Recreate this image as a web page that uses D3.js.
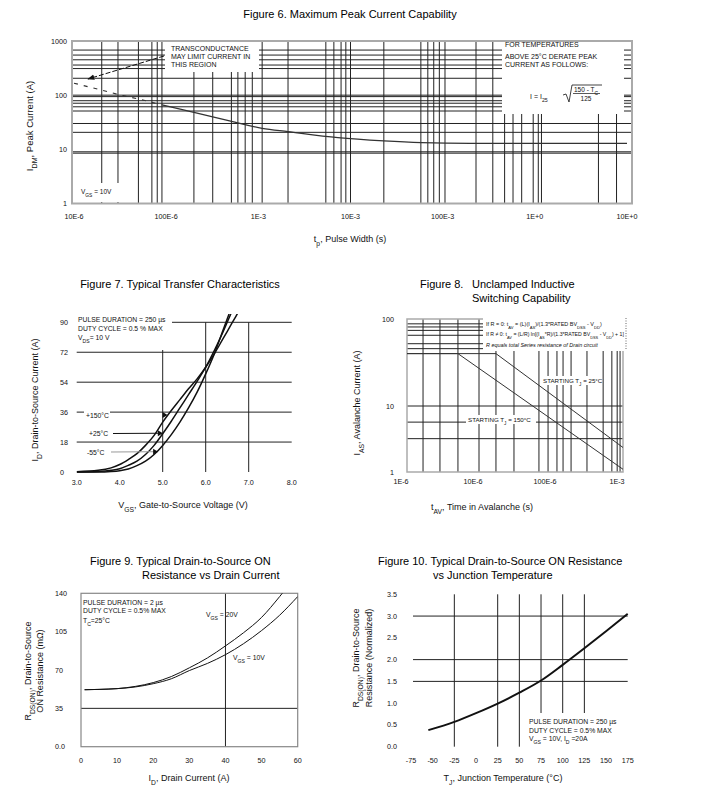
<!DOCTYPE html>
<html>
<head>
<meta charset="utf-8">
<script src="https://cdnjs.cloudflare.com/ajax/libs/d3/7.8.5/d3.min.js"></script>
<style>
body { margin: 0; background: #fff; }
svg { display: block; font-family: "Liberation Sans", Arial, Helvetica, sans-serif; }
</style>
</head>
<body>
<div id="chart"></div>
<script>
// ---- Figure 6: maximum peak current ----
var f6DashTime = [1e-5, 2e-5, 3.4e-5, 5e-5, 9e-5];
var f6DashCurrent = [166, 124, 98, 85, 66];
var f6Time = [9e-5, 2e-4, 5e-4, 1.1e-3, 2.1e-3, 7.3e-3, 2.3e-2, 5.9e-2, 0.2, 1, 10];
var f6Current = [66, 48, 33.3, 24.4, 21.2, 16.4, 14.3, 13.3, 12.9, 12.9, 12.9];
var f6GridTime = [2e-5, 3e-5, 5e-5, 7e-5, 8e-5, 9e-5, 2e-4, 3.2e-4, 5.1e-4, 6e-4, 7.2e-4, 8.6e-4,
  1.1e-3, 2.1e-3, 5.4e-3, 6.6e-3, 7.9e-3, 8.9e-3, 1e-2, 2.3e-2, 5.8e-2, 6.9e-2, 8e-2, 9.2e-2,
  0.106, 0.23, 0.35, 0.47, 0.58, 0.72, 0.96, 1.09, 1.18, 4.9, 7.7];
var f6GridCurrent = [680, 550, 450, 360, 310, 205, 100, 94, 79, 71, 61, 51, 30, 20.6, 9, 8.5];
var f6TickTime = [1e-5, 1e-4, 1e-3, 1e-2, 1e-1, 1, 10];
var f6TickTimeLabels = ["10E-6", "100E-6", "1E-3", "10E-3", "100E-3", "1E+0", "10E+0"];
var f6TickCurrent = [1, 10, 100, 1000];

// ---- Figure 7: transfer characteristics ----
var f7Vgs = [3.0, 3.5, 3.8, 4.0, 4.2, 4.4, 4.6, 4.8, 5.0, 5.2, 5.4, 5.6, 5.8, 6.0, 6.2, 6.4, 6.6, 6.8];
var f7Id150 = [0.2, 1, 2.5, 4.5, 7.5, 11, 16, 22, 30, 37, 43.5, 50, 56, 63, 71, 80, 89, 98];
var f7Id25 = [0, 0.3, 1, 2, 4, 6.5, 10.5, 16, 23, 30.5, 38.5, 46.5, 54.5, 63, 73, 84, 96, 108];
var f7IdM55 = [0, 0, 0.3, 0.8, 1.8, 3.8, 6.5, 10.5, 16, 22.5, 30, 38.5, 48, 59, 71, 85, 99, 113];
var f7TickV = [3, 4, 5, 6, 7, 8];
var f7TickI = [0, 18, 36, 54, 72, 90];
var f7GridV = [5, 6, 7];
var f7GridI = [18, 36, 54, 72, 90];

// ---- Figure 8: unclamped inductive switching ----
var f8Time25 = [1e-6, 1.72e-5, 1e-3];
var f8Ias25 = [40, 40, 2.35];
var f8Time150 = [1e-6, 5.1e-6, 1e-3];
var f8Ias150 = [40, 40, 1.1];
var f8GridTime = [1.67e-6, 2.87e-6, 5.1e-6, 1e-5, 1.72e-5, 3.06e-5, 6.8e-5, 9.1e-5, 1.21e-4,
  1.47e-4, 1.9e-4, 3.16e-4, 5.3e-4, 7e-4, 8.3e-4, 9.1e-4];
var f8GridIas = [88, 81, 74, 65, 52, 45.6, 10, 5.7, 3.2];
var f8TickTime = [1e-6, 1e-5, 1e-4, 1e-3];
var f8TickTimeLabels = ["1E-6", "10E-6", "100E-6", "1E-3"];
var f8TickIas = [1, 10, 100];

// ---- Figure 9: on resistance vs drain current ----
var f9Id = [1, 5, 10, 15, 20, 25, 30, 35, 40, 45, 50, 55, 60];
var f9Vgs20 = [52, 52.3, 53, 55, 58.5, 64, 72, 81, 92, 104, 118, 137, 158];
var f9Vgs10 = [52, 52.3, 53, 54.5, 57.5, 62, 69.5, 76, 84, 94, 106, 120, 137];
var f9TickId = [0, 10, 20, 30, 40, 50, 60];
var f9TickR = [0, 35, 70, 105, 140];

// ---- Figure 10: on resistance vs junction temperature ----
var f10Temp = [-55, -25, 0, 25, 50, 75, 100, 125, 150, 175];
var f10Rnorm = [0.38, 0.57, 0.77, 0.99, 1.24, 1.52, 1.88, 2.26, 2.65, 3.05];
var f10TickT = [-75, -50, -25, 0, 25, 50, 75, 100, 125, 150, 175];
var f10TickR = [0, 0.5, 1, 1.5, 2, 2.5, 3, 3.5];
var f10GridT = [-25, 25, 50, 75, 100, 125];
var f10GridR = [1.5, 2, 3];

var svg = d3.select("#chart").append("svg").attr("width", 702).attr("height", 811);
svg.append("rect").attr("width", 702).attr("height", 811).attr("fill", "#fff");

var INK = "#111";

// text with subscripts: parts are strings, or [string] for a subscript
function rich(g, x, y, parts, size, anchor) {
  var t = g.append("text").attr("x", x).attr("y", y)
    .attr("font-size", size).attr("text-anchor", anchor || "start").attr("fill", INK);
  parts.forEach(function(p) {
    if (typeof p === "string") t.append("tspan").text(p);
    else t.append("tspan").attr("baseline-shift", "sub").attr("font-size", size * 0.75).text(p[0]);
  });
  return t;
}

function rotated(x, y, parts, size) {
  var g = svg.append("g").attr("transform", "translate(" + x + "," + y + ") rotate(-90)");
  return rich(g, 0, 0, parts, size, "middle");
}

// squeeze a line of text horizontally so it fits a given width
function squeezed(g, x, y, parts, size, width) {
  var s = g.append("g").attr("transform", "translate(" + x + "," + y + ")");
  var t = rich(s, 0, 0, parts, size, "start");
  var w = t.node().getComputedTextLength();
  s.attr("transform", "translate(" + x + "," + y + ") scale(" + Math.min(1, width / w) + ",1)");
  return t;
}

function vLines(g, x, vals, y0, y1, color) {
  g.selectAll(null).data(vals).enter().append("line")
    .attr("x1", function(d) { return x(d); }).attr("x2", function(d) { return x(d); })
    .attr("y1", y0).attr("y2", y1)
    .attr("stroke", color || "#222").attr("stroke-width", 1);
}

function hLines(g, y, vals, x0, x1, color) {
  g.selectAll(null).data(vals).enter().append("line")
    .attr("y1", function(d) { return y(d); }).attr("y2", function(d) { return y(d); })
    .attr("x1", x0).attr("x2", x1)
    .attr("stroke", color || "#222").attr("stroke-width", 1);
}

function whiteBox(g, x, y, w, h) {
  return g.append("rect").attr("x", x).attr("y", y).attr("width", w).attr("height", h).attr("fill", "#fff");
}

function xLabels(g, x, vals, names, y, dx) {
  g.selectAll(null).data(vals).enter().append("text")
    .attr("x", function(d) { return x(d) + (dx || 0); }).attr("y", y)
    .attr("text-anchor", "middle").attr("font-size", 7.2).attr("fill", INK)
    .text(function(d, i) { return names[i]; });
}

function yLabels(g, y, vals, names, x, anchor) {
  g.selectAll(null).data(vals).enter().append("text")
    .attr("x", x).attr("y", function(d) { return y(d) + 2.5; })
    .attr("text-anchor", anchor).attr("font-size", 7.2).attr("fill", INK)
    .text(function(d, i) { return names[i]; });
}

function zip(a, b) { return a.map(function(v, i) { return [v, b[i]]; }); }

function title(x, y, txt, anchor) {
  svg.append("text").attr("x", x).attr("y", y).attr("text-anchor", anchor || "middle")
    .attr("font-size", 11).attr("fill", "#000").text(txt);
}

// ================= Figure 6 =================
var g6 = svg.append("g");
var x6 = d3.scaleLog().domain([1e-5, 10]).range([74, 627]);
var y6 = d3.scaleLog().domain([1, 1000]).range([203.5, 41]);

vLines(g6, x6, f6GridTime, 41, 203.5);
hLines(g6, y6, f6GridCurrent, 72, 632);
g6.append("rect").attr("x", 72).attr("y", 41).attr("width", 560).attr("height", 162.5)
  .attr("fill", "none").attr("stroke", "#aaa").attr("stroke-width", 2);

whiteBox(g6, 165, 42, 94, 30);
whiteBox(g6, 502, 42, 122, 72);
whiteBox(g6, 74, 183, 46, 19);

["TRANSCONDUCTANCE", "MAY LIMIT CURRENT IN", "THIS REGION"].forEach(function(s, i) {
  g6.append("text").attr("x", 171).attr("y", 51 + i * 8).attr("font-size", 7).attr("fill", INK).text(s);
});
["FOR TEMPERATURES", "ABOVE 25\u00b0C DERATE PEAK", "CURRENT AS FOLLOWS:"].forEach(function(s, i) {
  g6.append("text").attr("x", 505).attr("y", [47, 59, 67][i]).attr("font-size", 7).attr("fill", INK).text(s);
});
// derating formula
rich(g6, 530, 99, ["I  =  I", ["25"]], 7, "start");
g6.append("path").attr("d", "M563,95 L566,94 L569,102 L572,85 L602,85")
  .attr("fill", "none").attr("stroke", INK).attr("stroke-width", 0.8);
rich(g6, 586, 91.5, ["150 - T", ["C"]], 6.5, "middle");
g6.append("line").attr("x1", 573).attr("x2", 600).attr("y1", 93.5).attr("y2", 93.5)
  .attr("stroke", INK).attr("stroke-width", 0.7);
g6.append("text").attr("x", 586).attr("y", 101).attr("text-anchor", "middle")
  .attr("font-size", 6.5).attr("fill", INK).text("125");

rich(g6, 81, 194, ["V", ["GS"], " = 10V"], 6.5, "start");

var line6 = d3.line().x(function(d) { return x6(d[0]); }).y(function(d) { return y6(d[1]); })
  .curve(d3.curveMonotoneX);
g6.append("path").attr("d", line6(zip(f6DashTime, f6DashCurrent)))
  .attr("fill", "none").attr("stroke", "#333").attr("stroke-width", 1.2).attr("stroke-dasharray", "4,6");
g6.append("path").attr("d", line6(zip(f6Time, f6Current)))
  .attr("fill", "none").attr("stroke", "#333").attr("stroke-width", 1.3);

// arrow from the transconductance note
svg.append("defs").append("marker").attr("id", "head").attr("viewBox", "0 0 10 10")
  .attr("refX", 9).attr("refY", 5).attr("markerWidth", 7).attr("markerHeight", 7)
  .attr("orient", "auto")
  .append("path").attr("d", "M0,1 L10,5 L0,9 Z").attr("fill", INK);
g6.append("line").attr("x1", 164).attr("y1", 56).attr("x2", 88).attr("y2", 79)
  .attr("stroke", INK).attr("stroke-width", 1).attr("stroke-dasharray", "5,2")
  .attr("marker-end", "url(#head)");

xLabels(g6, x6, f6TickTime, f6TickTimeLabels, 219);
yLabels(g6, y6, f6TickCurrent, f6TickCurrent.map(String), 67, "end");
title(350, 18, "Figure 6. Maximum Peak Current Capability");
rotated(33, 126, ["I", ["DM"], ", Peak Current (A)"], 9.5);
rich(svg, 350, 242, ["t", ["p"], ", Pulse Width (s)"], 9, "middle");

// ================= Figure 7 =================
var g7 = svg.append("g");
var x7 = d3.scaleLinear().domain([3, 8]).range([76.7, 291.7]);
var y7 = d3.scaleLinear().domain([0, 90]).range([472, 322.3]);

hLines(g7, y7, f7GridI, 76.7, 291.7);
vLines(g7, x7, f7GridV, y7(0), y7(90));
whiteBox(g7, 76, 314, 96, 36);

["PULSE DURATION = 250 \u00b5s", "DUTY CYCLE = 0.5 % MAX"].forEach(function(s, i) {
  g7.append("text").attr("x", 78).attr("y", 321.5 + i * 9).attr("font-size", 6.8).attr("fill", INK).text(s);
});
rich(g7, 78, 339.5, ["V", ["DS"], "= 10 V"], 6.8, "start");

g7.append("clipPath").attr("id", "clip7").append("rect")
  .attr("x", 76.7).attr("y", 314).attr("width", 215).attr("height", 160);
var line7 = d3.line().x(function(d) { return x7(d[0]); }).y(function(d) { return y7(d[1]); })
  .curve(d3.curveMonotoneX);
[f7Id150, f7Id25, f7IdM55].forEach(function(s) {
  g7.append("path").attr("d", line7(zip(f7Vgs, s))).attr("clip-path", "url(#clip7)")
    .attr("fill", "none").attr("stroke", INK).attr("stroke-width", 1.5);
});

// temperature labels with leaders
var tempLabels = [
  { txt: "+150\u00b0C", x: 86, y: 415, vx: 5.09, iy: 34.3, lead: "#fff" },
  { txt: "+25\u00b0C", x: 89, y: 433.5, vx: 4.98, iy: 23.3, lead: INK },
  { txt: "-55\u00b0C", x: 87, y: 452, vx: 4.87, iy: 12.2, lead: "#999" }
];
tempLabels.forEach(function(d) {
  var ax = x7(d.vx), ay = y7(d.iy);
  if (d.lead !== "#fff") {
    g7.append("line").attr("x1", d.x + 24).attr("x2", ax - 3).attr("y1", d.y).attr("y2", ay)
      .attr("stroke", d.lead).attr("stroke-width", 1);
  }
  whiteBox(g7, d.x - 2, d.y - 4, 26, 8);
  g7.append("text").attr("x", d.x).attr("y", d.y + 2.5).attr("font-size", 6.8).attr("fill", INK).text(d.txt);
  g7.append("path").attr("d", "M" + (ax - 4) + "," + (ay - 3) + " L" + (ax + 1) + "," + ay + " L" + (ax - 4) + "," + (ay + 3) + " Z")
    .attr("fill", INK);
});

xLabels(g7, x7, f7TickV, f7TickV.map(function(v) { return v.toFixed(1); }), 485);
yLabels(g7, y7, f7TickI, f7TickI.map(String), 60, "start");
title(180, 288, "Figure 7. Typical Transfer Characteristics");
rotated(38, 400, ["I", ["D"], ", Drain-to-Source Current (A)"], 9);
rich(svg, 183, 508, ["V", ["GS"], ", Gate-to-Source Voltage (V)"], 9, "middle");

// ================= Figure 8 =================
var g8 = svg.append("g");
var x8 = d3.scaleLog().domain([1e-6, 1e-3]).range([407, 623]);
var y8 = d3.scaleLog().domain([1, 10, 100]).range([472, 406, 319]);

vLines(g8, x8, f8GridTime, 319, 472);
hLines(g8, y8, f8GridIas, 407, 623);
g8.append("rect").attr("x", 407).attr("y", 319).attr("width", 216).attr("height", 153)
  .attr("fill", "none").attr("stroke", "#aaa").attr("stroke-width", 1.5);
whiteBox(g8, 483, 317, 144, 34);
g8.append("line").attr("x1", 626).attr("x2", 626).attr("y1", 318).attr("y2", 350)
  .attr("stroke", "#666").attr("stroke-dasharray", "1,1.5");

squeezed(g8, 486, 326, ["If R = 0: t", ["AV"], " = (L)(I", ["AS"], ")/(1.3*RATED BV", ["DSS"], " - V", ["DD"], ")"], 5.8, 116);
squeezed(g8, 486, 336, ["If R \u2260 0: t", ["AV"], " = (L/R) ln[(I", ["AS"], "*R)/(1.3*RATED BV", ["DSS"], " - V", ["DD"], ") + 1]"], 5.8, 138);
squeezed(g8, 486, 347, ["R equals total Series resistance of Drain circuit"], 5.4, 130)
  .attr("font-style", "italic");

var line8 = d3.line().x(function(d) { return x8(d[0]); }).y(function(d) { return y8(d[1]); });
g8.append("path").attr("d", line8(zip(f8Time25, f8Ias25)))
  .attr("fill", "none").attr("stroke", "#333").attr("stroke-width", 1);
g8.append("path").attr("d", line8(zip(f8Time150, f8Ias150)))
  .attr("fill", "none").attr("stroke", "#333").attr("stroke-width", 1);

whiteBox(g8, 541, 376, 55, 9);
rich(g8, 543, 383, ["STARTING T", ["J"], " = 25\u00b0C"], 6.2, "start");
whiteBox(g8, 466, 415, 70, 9);
rich(g8, 468, 422, ["STARTING T", ["J"], " = 150\u00b0C"], 6.2, "start");

xLabels(g8, x8, f8TickTime, f8TickTimeLabels, 484, -6);
yLabels(g8, y8, f8TickIas, f8TickIas.map(String), 394, "end");
svg.append("text").attr("x", 420).attr("y", 288).attr("font-size", 11).attr("fill", "#000").text("Figure 8.");
svg.append("text").attr("x", 472).attr("y", 288).attr("font-size", 11).attr("fill", "#000").text("Unclamped Inductive");
svg.append("text").attr("x", 472).attr("y", 302).attr("font-size", 11).attr("fill", "#000").text("Switching Capability");
rotated(360, 403, ["I", ["AS"], ", Avalanche Current (A)"], 9);
rich(svg, 482, 510, ["t", ["AV"], ", Time in Avalanche (s)"], 9, "middle");

// ================= Figure 9 =================
var g9 = svg.append("g");
var x9 = d3.scaleLinear().domain([0, 60]).range([81, 297.7]);
var y9 = d3.scaleLinear().domain([0, 140]).range([746.7, 593.3]);

hLines(g9, y9, [35], 81, 297.7);
vLines(g9, x9, [40], 593.3, 746.7);
g9.append("rect").attr("x", 81).attr("y", 593.3).attr("width", 216.7).attr("height", 153.4)
  .attr("fill", "none").attr("stroke", "#888").attr("stroke-width", 1.2);

g9.append("clipPath").attr("id", "clip9").append("rect")
  .attr("x", 81).attr("y", 593.3).attr("width", 216.7).attr("height", 153.4);
var line9 = d3.line().x(function(d) { return x9(d[0]); }).y(function(d) { return y9(d[1]); })
  .curve(d3.curveMonotoneX);
[f9Vgs20, f9Vgs10].forEach(function(s) {
  g9.append("path").attr("d", line9(zip(f9Id, s))).attr("clip-path", "url(#clip9)")
    .attr("fill", "none").attr("stroke", INK).attr("stroke-width", 1);
});

["PULSE DURATION = 2 \u00b5s", "DUTY CYCLE = 0.5% MAX"].forEach(function(s, i) {
  g9.append("text").attr("x", 83).attr("y", 605 + i * 8).attr("font-size", 6.8).attr("fill", INK).text(s);
});
rich(g9, 83, 623, ["T", ["C"], "=25\u00b0C"], 6.8, "start");
rich(g9, 206, 617, ["V", ["GS"], " = 20V"], 6.8, "start");
rich(g9, 233, 660, ["V", ["GS"], " = 10V"], 6.8, "start");

xLabels(g9, x9, f9TickId, f9TickId.map(String), 763);
yLabels(g9, y9, f9TickR, ["0.0", "35", "70", "105", "140"], 55, "start");
title(90, 565, "Figure 9.  Typical Drain-to-Source ON", "start");
title(142, 579, "Resistance vs Drain Current", "start");
rotated(31, 671, ["R", ["DS(ON)"], ", Drain-to-Source"], 9);
rotated(43, 671, ["ON Resistance (m\u03a9)"], 9);
rich(svg, 189, 781, ["I", ["D"], ", Drain Current (A)"], 9, "middle");

// ================= Figure 10 =================
var g10 = svg.append("g");
var x10 = d3.scaleLinear().domain([-75, 175]).range([411, 627.7]);
var y10 = d3.scaleLinear().domain([0, 3.5]).range([746.7, 594.3]);

hLines(g10, y10, f10GridR, 413, 627.7);
vLines(g10, x10, f10GridT, 594.3, 746.7);
whiteBox(g10, 526, 713, 104, 34);

var line10 = d3.line().x(function(d) { return x10(d[0]); }).y(function(d) { return y10(d[1]); })
  .curve(d3.curveMonotoneX);
g10.append("path").attr("d", line10(zip(f10Temp, f10Rnorm)))
  .attr("fill", "none").attr("stroke", INK).attr("stroke-width", 2);

["PULSE DURATION = 250 \u00b5s", "DUTY CYCLE = 0.5% MAX"].forEach(function(s, i) {
  g10.append("text").attr("x", 529).attr("y", 724 + i * 8.5).attr("font-size", 6.8).attr("fill", INK).text(s);
});
rich(g10, 529, 741, ["V", ["GS"], " = 10V, I", ["D"], " =20A"], 6.8, "start");

xLabels(g10, x10, f10TickT, f10TickT.map(String), 763);
yLabels(g10, y10, f10TickR, f10TickR.map(function(v) { return v.toFixed(1); }), 387, "start");
title(378, 565, "Figure 10.  Typical Drain-to-Source ON Resistance", "start");
title(433, 579, "vs Junction Temperature", "start");
rotated(359, 658, ["R", ["DS(ON)"], ", Drain-to-Source"], 9);
rotated(372, 658, ["Resistance (Normalized)"], 9);
rich(svg, 503, 781, ["T", ["J"], ", Junction Temperature (\u00b0C)"], 9, "middle");
</script>
</body>
</html>
